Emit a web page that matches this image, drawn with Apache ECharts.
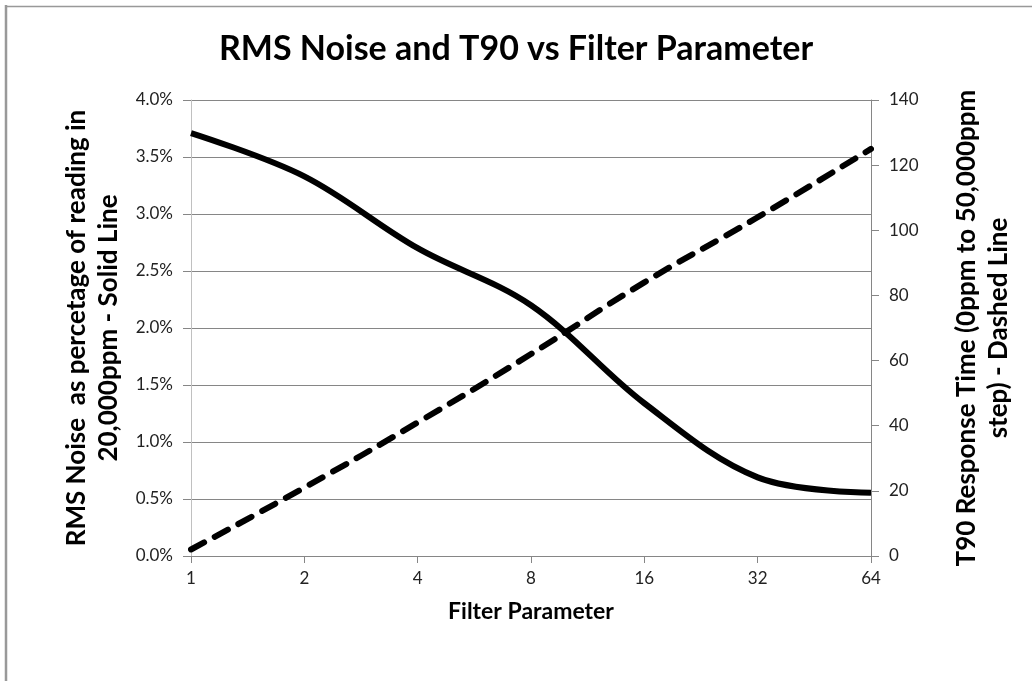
<!DOCTYPE html>
<html>
<head>
<meta charset="utf-8">
<script src="https://cdn.jsdelivr.net/npm/echarts@6/dist/echarts.min.js"></script>
<style>
  html, body { margin: 0; padding: 0; background: #fff; }
  #chart { width: 1032px; height: 681px; }
</style>
</head>
<body>
<div id="chart"></div>
<script>
// 数据
const filterParams = ['1', '2', '4', '8', '16', '32', '64']
const rmsNoise = [3.71, 3.33, 2.7, 2.2, 1.34, 0.69, 0.555] // %
const t90 = [2, 21, 41, 62, 84, 104, 125]

const font = 'Lato'
const gridColor = '#868686'

const chart = echarts.init(document.getElementById('chart'))
const option = {
  backgroundColor: '#fff',
  animation: false,
  title: {
    text: 'RMS Noise and T90 vs Filter Parameter',
    left: 'center',
    top: 27,
    textStyle: { fontFamily: font, fontWeight: 'bold', fontSize: 34, color: '#000' }
  },
  graphic: [
    { type: 'line', shape: { x1: 6, y1: 5, x2: 6, y2: 681 }, style: { stroke: '#999', lineWidth: 2.5 } },
    { type: 'line', shape: { x1: 5, y1: 6.5, x2: 1032, y2: 6.5 }, style: { stroke: '#999', lineWidth: 1.5 } }
  ],
  grid: { left: 191, right: 161, top: 100, bottom: 125 },
  xAxis: {
    type: 'category',
    data: filterParams,
    boundaryGap: false,
    name: 'Filter Parameter',
    nameLocation: 'middle',
    nameGap: 44,
    nameTextStyle: { fontFamily: font, fontWeight: 'bold', fontSize: 23, color: '#000' },
    axisLine: { lineStyle: { color: gridColor } },
    axisTick: { alignWithLabel: true, length: 7, lineStyle: { color: gridColor } },
    axisLabel: { fontFamily: font, fontSize: 17, color: '#222', margin: 14 },
    splitLine: { show: false }
  },
  yAxis: [
    {
      type: 'value',
      min: 0,
      max: 4,
      interval: 0.5,
      name: 'RMS Noise  as percetage of reading in\n20,000ppm - Solid Line',
      nameLocation: 'middle',
      nameRotate: 90,
      nameGap: 66,
      nameTextStyle: { fontFamily: font, fontWeight: 'bold', fontSize: 26, color: '#000', lineHeight: 32 },
      axisLine: { show: true, lineStyle: { color: '#c0c0c0' } },
      axisTick: { show: true, length: 8, lineStyle: { color: gridColor } },
      axisLabel: {
        fontFamily: font, fontSize: 17, color: '#222', margin: 18,
        formatter: v => v.toFixed(1) + '%'
      },
      splitLine: { lineStyle: { color: gridColor } }
    },
    {
      type: 'value',
      min: 0,
      max: 140,
      interval: 20,
      name: 'T90 Response Time (0ppm to 50,000ppm\nstep) - Dashed Line',
      nameLocation: 'middle',
      nameRotate: 90,
      nameGap: 80,
      nameTextStyle: { fontFamily: font, fontWeight: 'bold', fontSize: 26, color: '#000', lineHeight: 32 },
      axisLine: { show: true, lineStyle: { color: gridColor } },
      axisTick: { show: true, length: 8, lineStyle: { color: gridColor } },
      axisLabel: { fontFamily: font, fontSize: 17, color: '#222', margin: 18 },
      splitLine: { show: false }
    }
  ],
  series: [
    {
      name: 'RMS Noise',
      type: 'line',
      yAxisIndex: 0,
      data: rmsNoise,
      smooth: 0.35,
      symbol: 'none',
      lineStyle: { color: '#000', width: 6 }
    },
    {
      name: 'T90',
      type: 'line',
      yAxisIndex: 1,
      data: t90,
      smooth: true,
      symbol: 'none',
      lineStyle: { color: '#000', width: 6, type: [15, 12], cap: 'round' }
    }
  ]
}
chart.setOption(option)
</script>
</body>
</html>
